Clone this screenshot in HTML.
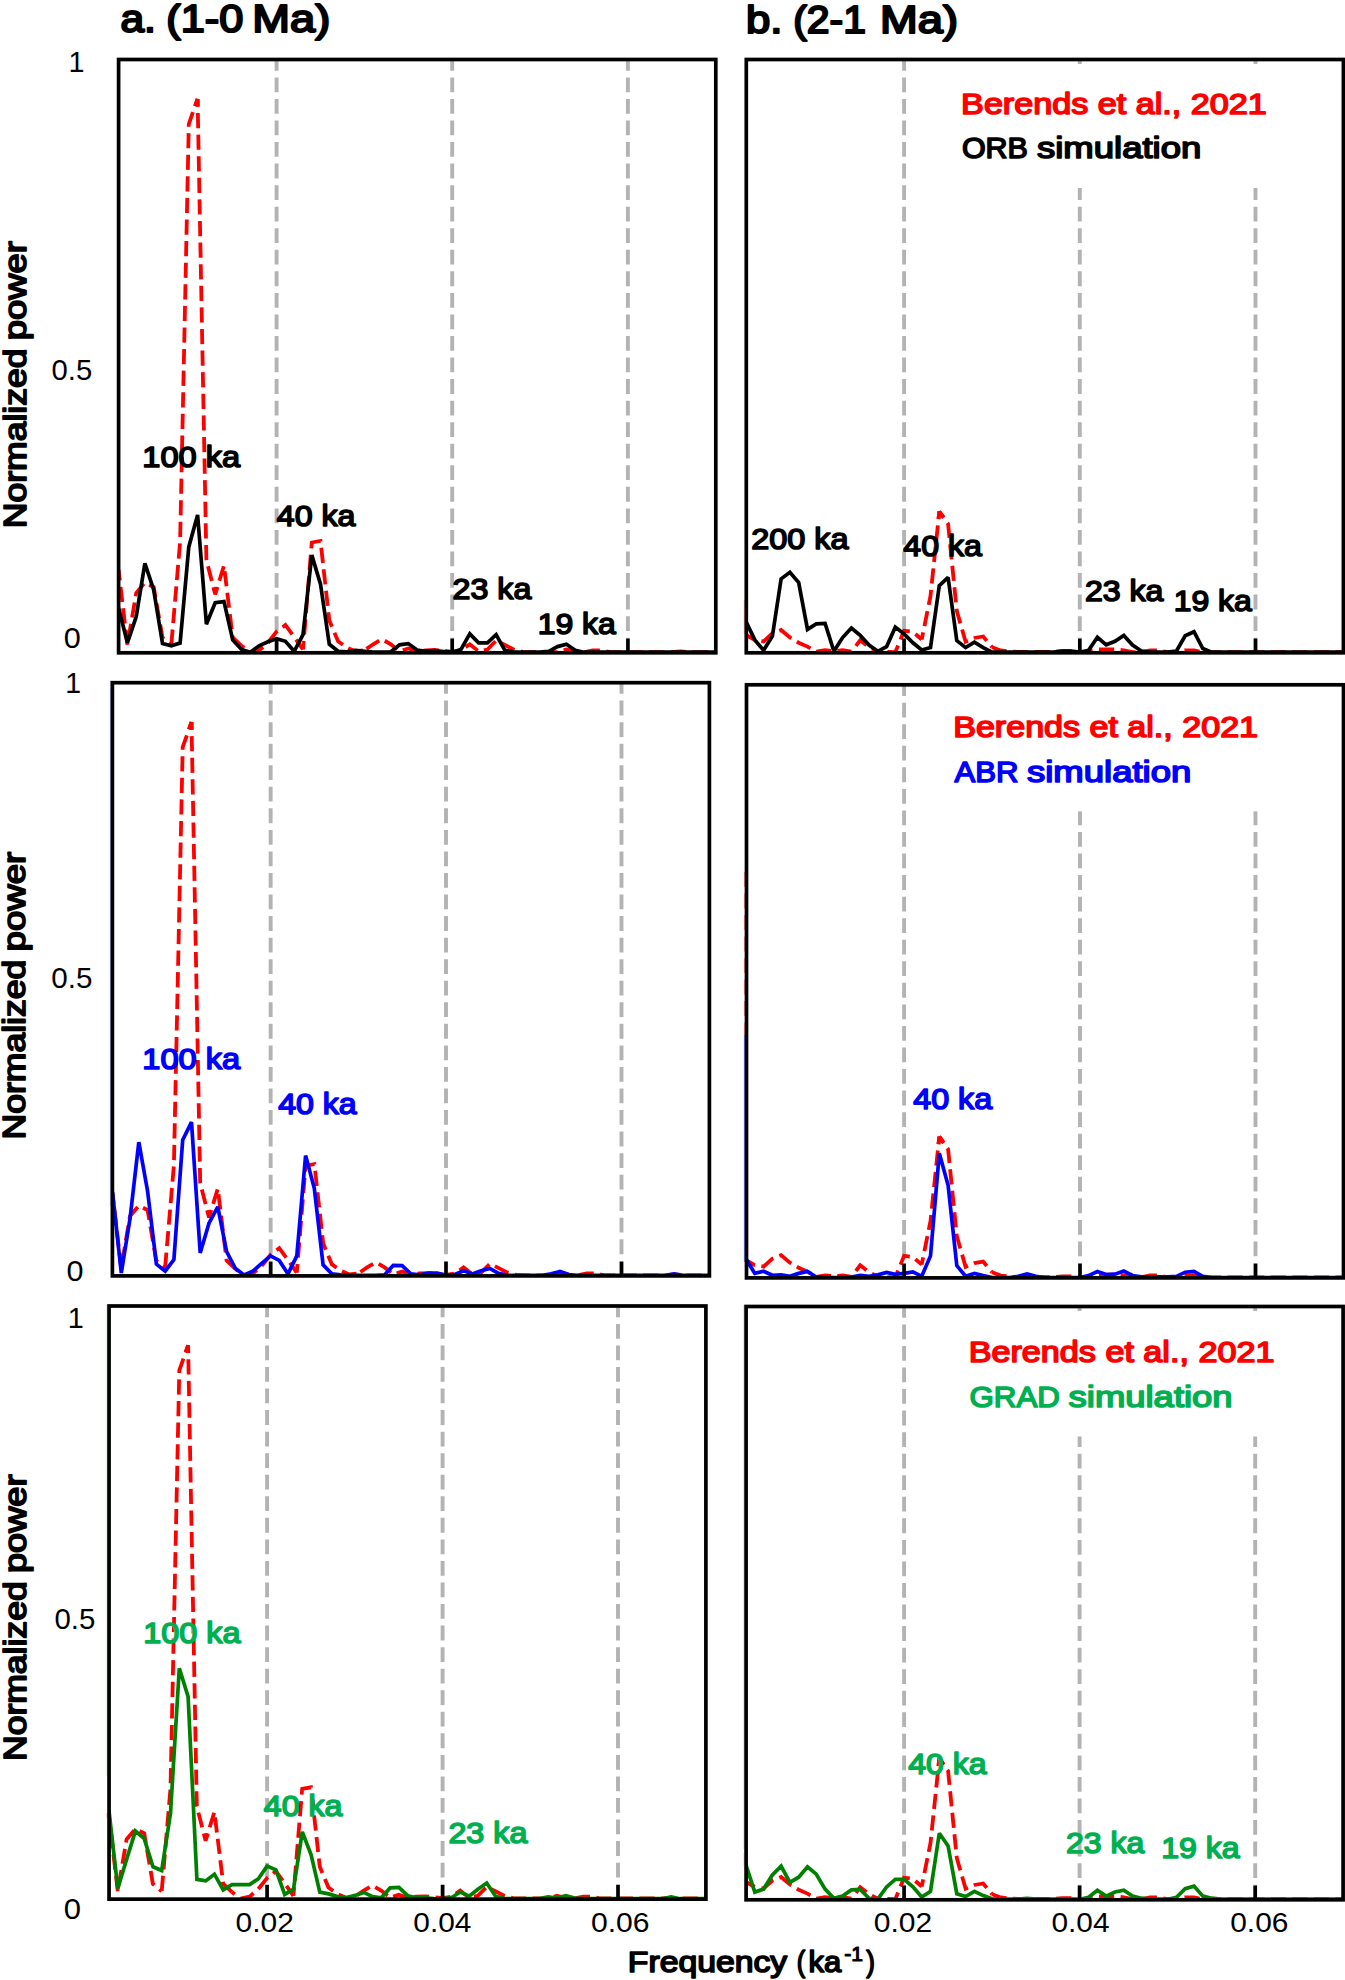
<!DOCTYPE html>
<html><head><meta charset="utf-8"><title>Spectra</title>
<style>html,body{margin:0;padding:0;background:#fff}svg{display:block}</style></head>
<body>
<svg width="1345" height="1980" viewBox="0 0 1345 1980" font-family="'Liberation Sans', Arial, sans-serif">
<rect width="1345" height="1980" fill="#fff"/>
<defs>
<clipPath id="caT"><rect x="118.20" y="59.50" width="598.00" height="593.30"/></clipPath>
<clipPath id="caM"><rect x="112.00" y="682.70" width="597.80" height="593.20"/></clipPath>
<clipPath id="caB"><rect x="108.65" y="1306.00" width="597.65" height="593.15"/></clipPath>
<clipPath id="cbT"><rect x="745.90" y="59.50" width="597.90" height="593.30"/></clipPath>
<clipPath id="cbM"><rect x="746.10" y="684.80" width="597.80" height="593.10"/></clipPath>
<clipPath id="cbB"><rect x="745.70" y="1306.50" width="597.80" height="593.30"/></clipPath>
</defs>
<line x1="276.60" y1="59.50" x2="276.60" y2="652.80" stroke="#b3b3b3" stroke-width="3.9" stroke-dasharray="14.8 6.75" stroke-dashoffset="3.65"/>
<line x1="452.20" y1="59.50" x2="452.20" y2="652.80" stroke="#b3b3b3" stroke-width="3.9" stroke-dasharray="14.8 6.75" stroke-dashoffset="3.65"/>
<line x1="627.90" y1="59.50" x2="627.90" y2="652.80" stroke="#b3b3b3" stroke-width="3.9" stroke-dasharray="14.8 6.75" stroke-dashoffset="3.65"/>
<line x1="270.65" y1="682.70" x2="270.65" y2="1275.90" stroke="#b3b3b3" stroke-width="3.9" stroke-dasharray="14.8 6.75" stroke-dashoffset="3.65"/>
<line x1="446.00" y1="682.70" x2="446.00" y2="1275.90" stroke="#b3b3b3" stroke-width="3.9" stroke-dasharray="14.8 6.75" stroke-dashoffset="3.65"/>
<line x1="621.50" y1="682.70" x2="621.50" y2="1275.90" stroke="#b3b3b3" stroke-width="3.9" stroke-dasharray="14.8 6.75" stroke-dashoffset="3.65"/>
<line x1="267.10" y1="1306.00" x2="267.10" y2="1899.15" stroke="#b3b3b3" stroke-width="3.9" stroke-dasharray="14.8 6.75" stroke-dashoffset="3.65"/>
<line x1="442.60" y1="1306.00" x2="442.60" y2="1899.15" stroke="#b3b3b3" stroke-width="3.9" stroke-dasharray="14.8 6.75" stroke-dashoffset="3.65"/>
<line x1="618.00" y1="1306.00" x2="618.00" y2="1899.15" stroke="#b3b3b3" stroke-width="3.9" stroke-dasharray="14.8 6.75" stroke-dashoffset="3.65"/>
<line x1="904.10" y1="59.50" x2="904.10" y2="652.80" stroke="#b3b3b3" stroke-width="3.9" stroke-dasharray="14.8 6.75" stroke-dashoffset="3.65"/>
<line x1="1079.80" y1="59.50" x2="1079.80" y2="652.80" stroke="#b3b3b3" stroke-width="3.9" stroke-dasharray="14.8 6.75" stroke-dashoffset="3.65"/>
<line x1="1255.50" y1="59.50" x2="1255.50" y2="652.80" stroke="#b3b3b3" stroke-width="3.9" stroke-dasharray="14.8 6.75" stroke-dashoffset="3.65"/>
<rect x="1039.8" y="64.0" width="260" height="124.0" fill="#fff"/>
<line x1="904.10" y1="684.80" x2="904.10" y2="1277.90" stroke="#b3b3b3" stroke-width="3.9" stroke-dasharray="14.8 6.75" stroke-dashoffset="3.65"/>
<line x1="1080.00" y1="684.80" x2="1080.00" y2="1277.90" stroke="#b3b3b3" stroke-width="3.9" stroke-dasharray="14.8 6.75" stroke-dashoffset="3.65"/>
<line x1="1255.50" y1="684.80" x2="1255.50" y2="1277.90" stroke="#b3b3b3" stroke-width="3.9" stroke-dasharray="14.8 6.75" stroke-dashoffset="3.65"/>
<rect x="1040.0" y="685.8" width="260" height="125.6" fill="#fff"/>
<line x1="904.10" y1="1306.50" x2="904.10" y2="1899.80" stroke="#b3b3b3" stroke-width="3.9" stroke-dasharray="14.8 6.75" stroke-dashoffset="3.65"/>
<line x1="1079.60" y1="1306.50" x2="1079.60" y2="1899.80" stroke="#b3b3b3" stroke-width="3.9" stroke-dasharray="14.8 6.75" stroke-dashoffset="3.65"/>
<line x1="1255.20" y1="1306.50" x2="1255.20" y2="1899.80" stroke="#b3b3b3" stroke-width="3.9" stroke-dasharray="14.8 6.75" stroke-dashoffset="3.65"/>
<rect x="1039.6" y="1311.0" width="260" height="125.5" fill="#fff"/>
<g clip-path="url(#caT)">
<polyline points="118.6,570.0 127.4,645.0 136.2,593.0 144.9,582.6 153.7,587.0 162.5,637.6 171.3,645.0" fill="none" stroke="#ff0000" stroke-width="3.8" stroke-dasharray="15.2 6.4" stroke-dashoffset="4.60" stroke-linejoin="miter" stroke-miterlimit="2"/>
<polyline points="197.6,99.0 188.8,124.0 180.1,542.0 171.3,645.0" fill="none" stroke="#ff0000" stroke-width="3.8" stroke-dasharray="15.2 6.4" stroke-dashoffset="7.60" stroke-linejoin="miter" stroke-miterlimit="2"/>
<polyline points="197.6,99.0 206.4,560.0 215.2,594.4 224.0,565.6 232.7,637.5 241.5,645.8" fill="none" stroke="#ff0000" stroke-width="3.8" stroke-dasharray="15.2 6.4" stroke-dashoffset="7.60" stroke-linejoin="miter" stroke-miterlimit="2"/>
<polyline points="241.5,645.8 250.3,652.2 259.1,650.3 267.9,642.8 276.6,631.7 285.4,625.0 294.2,637.0 303.0,649.5" fill="none" stroke="#ff0000" stroke-width="3.8" stroke-dasharray="15.2 6.4" stroke-dashoffset="11.73" stroke-linejoin="miter" stroke-miterlimit="2"/>
<polyline points="303.0,649.5 311.8,542.5 320.5,541.0 329.3,620.5 338.1,641.3 346.9,647.6 355.7,651.3 364.4,650.3" fill="none" stroke="#ff0000" stroke-width="3.8" stroke-dasharray="15.2 6.4" stroke-dashoffset="6.56" stroke-linejoin="miter" stroke-miterlimit="2"/>
<polyline points="364.4,650.3 373.2,644.3 382.0,639.1 390.8,644.3 399.6,651.3 408.3,648.5 417.1,651.3 425.9,650.3 434.7,650.0 443.5,650.7 452.2,651.8 461.0,650.3 469.8,644.3 478.6,651.3 487.4,649.5 496.1,640.6 504.9,645.0 513.7,649.5 522.5,651.8 531.3,652.2 540.0,652.2 548.8,652.2 557.6,652.2 566.4,649.5 575.2,651.8 583.9,652.2 592.7,650.3 601.5,650.3 610.3,652.2 619.1,652.2 627.8,652.2 636.6,652.2 645.4,652.2 654.2,652.2 663.0,652.2 671.7,652.2 680.5,651.3 689.3,652.2 698.1,652.2 706.9,652.2 715.6,652.2" fill="none" stroke="#ff0000" stroke-width="3.8" stroke-dasharray="15.2 6.4" stroke-dashoffset="19.10" stroke-linejoin="miter" stroke-miterlimit="2"/>
<polyline points="195.1,106.2 197.6,99.0 197.8,106.6" fill="none" stroke="#ff0000" stroke-width="3.8" stroke-linejoin="miter" stroke-miterlimit="2"/>
</g>
<g clip-path="url(#caM)">
<polyline points="112.4,1193.1 121.2,1268.1 130.0,1216.1 138.8,1205.7 147.6,1210.1 156.3,1260.7 165.1,1268.1" fill="none" stroke="#ff0000" stroke-width="3.8" stroke-dasharray="15.2 6.4" stroke-dashoffset="4.60" stroke-linejoin="miter" stroke-miterlimit="2"/>
<polyline points="191.5,722.1 182.7,747.1 173.9,1165.1 165.1,1268.1" fill="none" stroke="#ff0000" stroke-width="3.8" stroke-dasharray="15.2 6.4" stroke-dashoffset="7.60" stroke-linejoin="miter" stroke-miterlimit="2"/>
<polyline points="191.5,722.1 200.2,1183.1 209.0,1217.5 217.8,1188.7 226.6,1260.6 235.4,1268.9" fill="none" stroke="#ff0000" stroke-width="3.8" stroke-dasharray="15.2 6.4" stroke-dashoffset="7.60" stroke-linejoin="miter" stroke-miterlimit="2"/>
<polyline points="235.4,1268.9 244.1,1275.3 252.9,1273.4 261.7,1265.9 270.5,1254.8 279.3,1248.1 288.1,1260.1 296.8,1272.6" fill="none" stroke="#ff0000" stroke-width="3.8" stroke-dasharray="15.2 6.4" stroke-dashoffset="11.73" stroke-linejoin="miter" stroke-miterlimit="2"/>
<polyline points="296.8,1272.6 305.6,1165.6 314.4,1164.1 323.2,1243.6 331.9,1264.4 340.7,1270.7 349.5,1274.4 358.3,1273.4" fill="none" stroke="#ff0000" stroke-width="3.8" stroke-dasharray="15.2 6.4" stroke-dashoffset="6.56" stroke-linejoin="miter" stroke-miterlimit="2"/>
<polyline points="358.3,1273.4 367.1,1267.4 375.9,1262.2 384.6,1267.4 393.4,1274.4 402.2,1271.6 411.0,1274.4 419.8,1273.4 428.5,1273.1 437.3,1273.8 446.1,1274.9 454.9,1273.4 463.6,1267.4 472.4,1274.4 481.2,1272.6 490.0,1263.7 498.8,1268.1 507.5,1272.6 516.3,1274.9 525.1,1275.3 533.9,1275.3 542.7,1275.3 551.4,1275.3 560.2,1272.6 569.0,1274.9 577.8,1275.3 586.6,1273.4 595.4,1273.4 604.1,1275.3 612.9,1275.3 621.7,1275.3 630.5,1275.3 639.2,1275.3 648.0,1275.3 656.8,1275.3 665.6,1275.3 674.4,1274.4 683.1,1275.3 691.9,1275.3 700.7,1275.3 709.5,1275.3" fill="none" stroke="#ff0000" stroke-width="3.8" stroke-dasharray="15.2 6.4" stroke-dashoffset="19.10" stroke-linejoin="miter" stroke-miterlimit="2"/>
<polyline points="189.0,729.3 191.5,722.1 191.6,729.7" fill="none" stroke="#ff0000" stroke-width="3.8" stroke-linejoin="miter" stroke-miterlimit="2"/>
</g>
<g clip-path="url(#caB)">
<polyline points="109.0,1816.3 117.8,1891.3 126.6,1839.3 135.4,1828.9 144.2,1833.3 152.9,1883.9 161.7,1891.3" fill="none" stroke="#ff0000" stroke-width="3.8" stroke-dasharray="15.2 6.4" stroke-dashoffset="4.60" stroke-linejoin="miter" stroke-miterlimit="2"/>
<polyline points="188.1,1345.3 179.3,1370.3 170.5,1788.3 161.7,1891.3" fill="none" stroke="#ff0000" stroke-width="3.8" stroke-dasharray="15.2 6.4" stroke-dashoffset="7.60" stroke-linejoin="miter" stroke-miterlimit="2"/>
<polyline points="188.1,1345.3 196.8,1806.3 205.6,1840.8 214.4,1811.9 223.2,1883.8 232.0,1892.1" fill="none" stroke="#ff0000" stroke-width="3.8" stroke-dasharray="15.2 6.4" stroke-dashoffset="7.60" stroke-linejoin="miter" stroke-miterlimit="2"/>
<polyline points="232.0,1892.1 240.7,1898.5 249.5,1896.7 258.3,1889.1 267.1,1878.0 275.9,1871.3 284.6,1883.3 293.4,1895.8" fill="none" stroke="#ff0000" stroke-width="3.8" stroke-dasharray="15.2 6.4" stroke-dashoffset="11.73" stroke-linejoin="miter" stroke-miterlimit="2"/>
<polyline points="293.4,1895.8 302.2,1788.8 311.0,1787.3 319.8,1866.8 328.5,1887.6 337.3,1894.0 346.1,1897.7 354.9,1896.7" fill="none" stroke="#ff0000" stroke-width="3.8" stroke-dasharray="15.2 6.4" stroke-dashoffset="6.56" stroke-linejoin="miter" stroke-miterlimit="2"/>
<polyline points="354.9,1896.7 363.7,1890.6 372.4,1885.4 381.2,1890.6 390.0,1897.7 398.8,1894.8 407.6,1897.7 416.3,1896.7 425.1,1896.3 433.9,1897.1 442.7,1898.2 451.5,1896.7 460.2,1890.6 469.0,1897.7 477.8,1895.8 486.6,1886.9 495.4,1891.3 504.1,1895.8 512.9,1898.2 521.7,1898.5 530.5,1898.5 539.3,1898.5 548.0,1898.5 556.8,1895.8 565.6,1898.2 574.4,1898.5 583.2,1896.7 592.0,1896.7 600.7,1898.5 609.5,1898.5 618.3,1898.5 627.1,1898.5 635.9,1898.5 644.6,1898.5 653.4,1898.5 662.2,1898.5 671.0,1897.7 679.8,1898.5 688.5,1898.5 697.3,1898.5 706.1,1898.5" fill="none" stroke="#ff0000" stroke-width="3.8" stroke-dasharray="15.2 6.4" stroke-dashoffset="19.10" stroke-linejoin="miter" stroke-miterlimit="2"/>
<polyline points="185.6,1352.5 188.1,1345.3 188.2,1352.9" fill="none" stroke="#ff0000" stroke-width="3.8" stroke-linejoin="miter" stroke-miterlimit="2"/>
</g>
<g clip-path="url(#cbT)">
<polyline points="746.0,635.0 754.8,640.0 763.6,641.5 772.4,633.5 781.1,630.0 789.9,637.5 798.7,642.7 807.5,646.6 816.3,651.7 825.1,650.2 833.9,651.2 842.6,650.2 851.4,651.7 860.2,640.2 869.0,647.2 877.8,651.6" fill="none" stroke="#ff0000" stroke-width="3.8" stroke-dasharray="15.2 6.4" stroke-dashoffset="4.84" stroke-linejoin="miter" stroke-miterlimit="2"/>
<polyline points="877.8,651.6 886.6,652.0 895.3,652.2 904.1,630.8 912.9,631.8 921.7,639.5" fill="none" stroke="#ff0000" stroke-width="3.8" stroke-dasharray="15.2 6.4" stroke-dashoffset="11.99" stroke-linejoin="miter" stroke-miterlimit="2"/>
<polyline points="939.3,511.5 930.5,596.0 921.7,639.5" fill="none" stroke="#ff0000" stroke-width="3.8" stroke-dasharray="15.2 6.4" stroke-dashoffset="7.60" stroke-linejoin="miter" stroke-miterlimit="2"/>
<polyline points="939.3,511.5 948.1,524.0 956.8,611.0 965.6,641.7 974.4,638.0 983.2,636.5 992.0,647.2" fill="none" stroke="#ff0000" stroke-width="3.8" stroke-dasharray="15.2 6.4" stroke-dashoffset="7.60" stroke-linejoin="miter" stroke-miterlimit="2"/>
<polyline points="992.0,647.2 1000.8,650.5 1009.5,651.5 1018.3,652.0 1027.1,652.0 1035.9,652.0 1044.7,652.0 1053.5,652.0 1062.3,651.2 1071.0,651.2 1079.8,652.2 1088.6,651.6 1097.4,649.5 1106.2,649.5 1115.0,649.5 1123.8,650.3 1132.5,652.2 1141.3,652.2 1150.1,650.3 1158.9,650.3 1167.7,652.2 1176.5,652.2 1185.2,650.3 1194.0,650.3 1202.8,652.2 1211.6,652.2 1220.4,652.2 1229.2,652.2 1238.0,652.2 1246.7,652.2 1255.5,652.2 1264.3,652.2 1273.1,652.2 1281.9,652.2 1290.7,652.2 1299.5,652.2 1308.2,652.2 1317.0,652.2 1325.8,652.2 1334.6,652.2 1343.4,652.2" fill="none" stroke="#ff0000" stroke-width="3.8" stroke-dasharray="15.2 6.4" stroke-dashoffset="0.00" stroke-linejoin="miter" stroke-miterlimit="2"/>
<polyline points="938.5,519.1 939.3,511.5 943.6,517.7" fill="none" stroke="#ff0000" stroke-width="3.8" stroke-linejoin="miter" stroke-miterlimit="2"/>
</g>
<g clip-path="url(#cbM)">
<polyline points="746.0,1260.1 754.8,1265.1 763.6,1266.6 772.4,1258.6 781.1,1255.1 789.9,1262.6 798.7,1267.8 807.5,1271.7 816.3,1276.8 825.1,1275.3 833.9,1276.3 842.6,1275.3 851.4,1276.8 860.2,1265.3 869.0,1272.3 877.8,1276.7" fill="none" stroke="#ff0000" stroke-width="3.8" stroke-dasharray="15.2 6.4" stroke-dashoffset="4.84" stroke-linejoin="miter" stroke-miterlimit="2"/>
<polyline points="877.8,1276.7 886.6,1277.1 895.3,1277.3 904.1,1255.9 912.9,1256.9 921.7,1264.6" fill="none" stroke="#ff0000" stroke-width="3.8" stroke-dasharray="15.2 6.4" stroke-dashoffset="11.99" stroke-linejoin="miter" stroke-miterlimit="2"/>
<polyline points="939.3,1136.6 930.5,1221.1 921.7,1264.6" fill="none" stroke="#ff0000" stroke-width="3.8" stroke-dasharray="15.2 6.4" stroke-dashoffset="7.60" stroke-linejoin="miter" stroke-miterlimit="2"/>
<polyline points="939.3,1136.6 948.1,1149.1 956.8,1236.1 965.6,1266.8 974.4,1263.1 983.2,1261.6 992.0,1272.3" fill="none" stroke="#ff0000" stroke-width="3.8" stroke-dasharray="15.2 6.4" stroke-dashoffset="7.60" stroke-linejoin="miter" stroke-miterlimit="2"/>
<polyline points="992.0,1272.3 1000.8,1275.6 1009.5,1276.6 1018.3,1277.1 1027.1,1277.1 1035.9,1277.1 1044.7,1277.1 1053.5,1277.1 1062.3,1276.3 1071.0,1276.3 1079.8,1277.3 1088.6,1276.7 1097.4,1274.6 1106.2,1274.6 1115.0,1274.6 1123.8,1275.4 1132.5,1277.3 1141.3,1277.3 1150.1,1275.4 1158.9,1275.4 1167.7,1277.3 1176.5,1277.3 1185.2,1275.4 1194.0,1275.4 1202.8,1277.3 1211.6,1277.3 1220.4,1277.3 1229.2,1277.3 1238.0,1277.3 1246.7,1277.3 1255.5,1277.3 1264.3,1277.3 1273.1,1277.3 1281.9,1277.3 1290.7,1277.3 1299.5,1277.3 1308.2,1277.3 1317.0,1277.3 1325.8,1277.3 1334.6,1277.3 1343.4,1277.3" fill="none" stroke="#ff0000" stroke-width="3.8" stroke-dasharray="15.2 6.4" stroke-dashoffset="0.00" stroke-linejoin="miter" stroke-miterlimit="2"/>
<polyline points="938.5,1144.2 939.3,1136.6 943.6,1142.8" fill="none" stroke="#ff0000" stroke-width="3.8" stroke-linejoin="miter" stroke-miterlimit="2"/>
</g>
<g clip-path="url(#cbB)">
<polyline points="746.0,1882.0 754.8,1887.0 763.6,1888.5 772.4,1880.5 781.1,1877.0 789.9,1884.5 798.7,1889.7 807.5,1893.6 816.3,1898.7 825.1,1897.2 833.9,1898.2 842.6,1897.2 851.4,1898.7 860.2,1887.2 869.0,1894.2 877.8,1898.6" fill="none" stroke="#ff0000" stroke-width="3.8" stroke-dasharray="15.2 6.4" stroke-dashoffset="4.84" stroke-linejoin="miter" stroke-miterlimit="2"/>
<polyline points="877.8,1898.6 886.6,1899.0 895.3,1899.2 904.1,1877.8 912.9,1878.8 921.7,1886.5" fill="none" stroke="#ff0000" stroke-width="3.8" stroke-dasharray="15.2 6.4" stroke-dashoffset="11.99" stroke-linejoin="miter" stroke-miterlimit="2"/>
<polyline points="939.3,1758.5 930.5,1843.0 921.7,1886.5" fill="none" stroke="#ff0000" stroke-width="3.8" stroke-dasharray="15.2 6.4" stroke-dashoffset="7.60" stroke-linejoin="miter" stroke-miterlimit="2"/>
<polyline points="939.3,1758.5 948.1,1771.0 956.8,1858.0 965.6,1888.7 974.4,1885.0 983.2,1883.5 992.0,1894.2" fill="none" stroke="#ff0000" stroke-width="3.8" stroke-dasharray="15.2 6.4" stroke-dashoffset="7.60" stroke-linejoin="miter" stroke-miterlimit="2"/>
<polyline points="992.0,1894.2 1000.8,1897.5 1009.5,1898.5 1018.3,1899.0 1027.1,1899.0 1035.9,1899.0 1044.7,1899.0 1053.5,1899.0 1062.3,1898.2 1071.0,1898.2 1079.8,1899.2 1088.6,1898.6 1097.4,1896.5 1106.2,1896.5 1115.0,1896.5 1123.8,1897.3 1132.5,1899.2 1141.3,1899.2 1150.1,1897.3 1158.9,1897.3 1167.7,1899.2 1176.5,1899.2 1185.2,1897.3 1194.0,1897.3 1202.8,1899.2 1211.6,1899.2 1220.4,1899.2 1229.2,1899.2 1238.0,1899.2 1246.7,1899.2 1255.5,1899.2 1264.3,1899.2 1273.1,1899.2 1281.9,1899.2 1290.7,1899.2 1299.5,1899.2 1308.2,1899.2 1317.0,1899.2 1325.8,1899.2 1334.6,1899.2 1343.4,1899.2" fill="none" stroke="#ff0000" stroke-width="3.8" stroke-dasharray="15.2 6.4" stroke-dashoffset="0.00" stroke-linejoin="miter" stroke-miterlimit="2"/>
<polyline points="938.5,1766.1 939.3,1758.5 943.6,1764.7" fill="none" stroke="#ff0000" stroke-width="3.8" stroke-linejoin="miter" stroke-miterlimit="2"/>
</g>
<line x1="110.40" y1="681.0" x2="110.40" y2="1206.0" stroke="#0000ff" stroke-width="0.9" opacity="0.3"/>
<line x1="107.00" y1="1304.0" x2="107.00" y2="1776.0" stroke="#008000" stroke-width="0.9" opacity="0.2"/>
<line x1="107.10" y1="1813.0" x2="107.10" y2="1818.0" stroke="#ff0000" stroke-width="0.9" opacity="0.4"/>
<line x1="744.30" y1="600.0" x2="744.30" y2="634.0" stroke="#ff0000" stroke-width="0.9" opacity="0.4"/>
<line x1="744.40" y1="872.0" x2="744.40" y2="1035.0" stroke="#ff0000" stroke-width="0.9" opacity="0.5" stroke-dasharray="15 6.5"/>
<line x1="744.40" y1="1035.0" x2="744.40" y2="1262.0" stroke="#0000ff" stroke-width="0.9" opacity="0.6"/>
<line x1="744.00" y1="1305.0" x2="744.00" y2="1849.0" stroke="#008000" stroke-width="0.9" opacity="0.3"/>
<line x1="744.00" y1="1853.0" x2="744.00" y2="1867.0" stroke="#ff0000" stroke-width="0.9" opacity="0.25"/>
<polyline clip-path="url(#caT)" points="118.6,608.0 127.4,642.8 136.2,616.8 144.9,563.3 153.7,590.0 162.5,643.6 171.3,645.8 180.1,643.1 188.8,546.9 197.6,514.9 206.4,624.2 215.2,602.7 224.0,601.6 232.7,639.9 241.5,649.5 250.3,652.2 259.1,645.8 267.9,641.8 276.6,638.8 285.4,641.3 294.2,651.3 303.0,634.6 311.8,555.1 320.5,584.1 329.3,644.3 338.1,651.3 346.9,651.8 355.7,650.3 364.4,651.3 373.2,652.2 382.0,652.2 390.8,651.8 399.6,644.8 408.3,643.6 417.1,650.0 425.9,651.3 434.7,650.7 443.5,651.5 452.2,652.2 461.0,649.5 469.8,633.9 478.6,642.8 487.4,642.8 496.1,634.6 504.9,650.3 513.7,651.8 522.5,652.2 531.3,652.2 540.0,652.2 548.8,651.3 557.6,646.6 566.4,644.3 575.2,650.3 583.9,652.2 592.7,652.2 601.5,652.2 610.3,652.2 619.1,652.2 627.8,652.2 636.6,652.2 645.4,652.2 654.2,652.2 663.0,652.2 671.7,652.2 680.5,652.2 689.3,652.2 698.1,652.2 706.9,652.2 715.6,652.2" fill="none" stroke="#000" stroke-width="3.7" stroke-linejoin="miter" stroke-miterlimit="2"/>
<polyline clip-path="url(#caM)" points="112.5,1192.0 121.3,1273.0 130.1,1218.0 138.8,1142.2 147.6,1191.2 156.4,1264.1 165.2,1271.2 173.9,1259.6 182.7,1139.9 191.5,1122.1 200.2,1253.0 209.0,1223.2 217.8,1206.9 226.6,1251.5 235.4,1268.6 244.1,1274.9 252.9,1271.2 261.7,1263.4 270.5,1255.9 279.2,1260.4 288.0,1273.9 296.8,1255.9 305.6,1155.6 314.3,1188.3 323.1,1264.9 331.9,1273.9 340.6,1274.9 349.4,1275.4 358.2,1275.4 367.0,1275.4 375.8,1275.4 384.5,1274.9 393.3,1265.3 402.1,1265.6 410.9,1273.9 419.6,1274.9 428.4,1273.0 437.2,1273.0 445.9,1275.4 454.7,1274.5 463.5,1270.8 472.3,1273.9 481.1,1270.8 489.8,1268.4 498.6,1273.4 507.4,1275.4 516.2,1275.4 524.9,1275.4 533.7,1275.4 542.5,1275.4 551.2,1273.9 560.0,1271.4 568.8,1274.5 577.6,1275.4 586.4,1275.4 595.1,1275.4 603.9,1275.4 612.7,1275.4 621.5,1275.4 630.2,1275.4 639.0,1275.4 647.8,1275.4 656.6,1275.4 665.3,1275.4 674.1,1273.9 682.9,1275.4 691.6,1275.4 700.4,1275.4 709.2,1275.4" fill="none" stroke="#0000ff" stroke-width="3.7" stroke-linejoin="miter" stroke-miterlimit="2"/>
<polyline clip-path="url(#caB)" points="109.0,1811.0 117.8,1888.4 126.6,1859.4 135.4,1831.1 144.2,1838.6 153.0,1866.8 161.7,1870.5 170.5,1813.3 179.3,1668.3 188.1,1696.6 196.9,1879.4 205.7,1880.9 214.4,1874.2 223.2,1889.9 232.0,1884.6 240.8,1884.6 249.6,1884.6 258.4,1878.7 267.1,1866.1 275.9,1869.8 284.7,1894.4 293.5,1889.1 302.3,1831.9 311.1,1854.9 319.8,1892.1 328.6,1893.9 337.4,1896.6 346.2,1897.8 355.0,1895.4 363.8,1892.4 372.5,1896.6 381.3,1897.8 390.1,1887.9 398.9,1887.3 407.7,1895.7 416.5,1897.8 425.2,1897.8 434.0,1898.5 442.8,1898.9 451.6,1897.5 460.4,1892.0 469.2,1896.2 477.9,1889.2 486.7,1883.0 495.5,1896.2 504.3,1898.5 513.1,1898.5 521.9,1898.5 530.6,1898.5 539.4,1898.5 548.2,1896.8 557.0,1898.1 565.8,1895.6 574.5,1898.1 583.3,1898.7 592.1,1898.7 600.9,1898.7 609.7,1898.7 618.5,1898.7 627.2,1898.7 636.0,1898.7 644.8,1898.7 653.6,1898.7 662.4,1898.7 671.2,1896.8 679.9,1898.7 688.7,1898.7 697.5,1898.7 706.3,1898.7" fill="none" stroke="#008000" stroke-width="3.7" stroke-linejoin="miter" stroke-miterlimit="2"/>
<polyline clip-path="url(#cbT)" points="746.0,621.5 754.8,639.9 763.6,650.3 772.4,636.1 781.1,578.9 789.9,572.2 798.7,582.6 807.5,629.4 816.3,623.9 825.1,623.5 833.9,651.3 842.6,637.6 851.4,628.0 860.2,635.4 869.0,645.0 877.8,651.3 886.6,646.6 895.3,627.2 904.1,633.9 912.9,642.8 921.7,650.0 930.5,647.6 939.3,585.6 948.1,577.4 956.8,640.6 965.6,647.6 974.4,642.1 983.2,647.6 992.0,652.2 1000.8,652.2 1009.5,652.2 1018.3,652.2 1027.1,652.2 1035.9,652.2 1044.7,652.2 1053.5,652.2 1062.3,651.0 1071.0,651.0 1079.8,652.2 1088.6,650.3 1097.4,637.3 1106.2,644.8 1115.0,641.3 1123.8,635.4 1132.5,645.0 1141.3,651.0 1150.1,652.2 1158.9,652.2 1167.7,652.2 1176.5,651.0 1185.2,635.8 1194.0,631.7 1202.8,648.5 1211.6,652.2 1220.4,652.2 1229.2,652.2 1238.0,652.2 1246.7,652.2 1255.5,652.2 1264.3,652.2 1273.1,652.2 1281.9,652.2 1290.7,652.2 1299.5,652.2 1308.2,652.2 1317.0,652.2 1325.8,652.2 1334.6,652.2 1343.4,652.2" fill="none" stroke="#000" stroke-width="3.7" stroke-linejoin="miter" stroke-miterlimit="2"/>
<polyline clip-path="url(#cbM)" points="746.0,1259.0 754.8,1273.4 763.6,1271.2 772.4,1275.3 781.1,1274.9 789.9,1276.3 798.7,1273.4 807.5,1271.5 816.3,1277.1 825.1,1277.1 833.9,1277.5 842.6,1277.5 851.4,1277.1 860.2,1275.3 869.0,1276.3 877.8,1274.9 886.6,1272.5 895.3,1274.4 904.1,1273.4 912.9,1271.9 921.7,1276.3 930.5,1255.9 939.3,1153.3 948.1,1185.3 956.8,1265.6 965.6,1276.3 974.4,1273.4 983.2,1275.6 992.0,1277.5 1000.8,1277.5 1009.5,1277.5 1018.3,1276.3 1027.1,1273.8 1035.9,1276.3 1044.7,1277.5 1053.5,1277.5 1062.3,1277.5 1071.0,1277.5 1079.8,1277.5 1088.6,1275.6 1097.4,1271.5 1106.2,1274.6 1115.0,1274.2 1123.8,1271.1 1132.5,1275.5 1141.3,1276.9 1150.1,1276.9 1158.9,1276.9 1167.7,1276.9 1176.5,1276.3 1185.2,1272.2 1194.0,1271.5 1202.8,1276.3 1211.6,1277.5 1220.4,1277.5 1229.2,1277.5 1238.0,1277.5 1246.7,1277.5 1255.5,1277.5 1264.3,1277.5 1273.1,1277.5 1281.9,1277.5 1290.7,1277.5 1299.5,1277.5 1308.2,1277.5 1317.0,1277.5 1325.8,1277.5 1334.6,1277.5 1343.4,1277.5" fill="none" stroke="#0000ff" stroke-width="3.7" stroke-linejoin="miter" stroke-miterlimit="2"/>
<polyline clip-path="url(#cbB)" points="746.0,1865.0 754.8,1892.1 763.6,1889.1 772.4,1875.0 781.1,1866.1 789.9,1882.4 798.7,1877.2 807.5,1866.8 816.3,1874.2 825.1,1889.1 833.9,1898.3 842.6,1896.0 851.4,1889.9 860.2,1889.4 869.0,1898.3 877.8,1899.2 886.6,1886.9 895.3,1879.4 904.1,1879.4 912.9,1886.9 921.7,1897.0 930.5,1891.3 939.3,1833.3 948.1,1846.0 956.8,1893.7 965.6,1896.5 974.4,1891.3 983.2,1895.6 992.0,1898.8 1000.8,1899.2 1009.5,1899.2 1018.3,1899.2 1027.1,1898.3 1035.9,1899.2 1044.7,1899.2 1053.5,1899.2 1062.3,1899.2 1071.0,1899.2 1079.8,1899.2 1088.6,1897.3 1097.4,1890.3 1106.2,1896.1 1115.0,1892.0 1123.8,1890.3 1132.5,1896.1 1141.3,1898.2 1150.1,1899.2 1158.9,1899.2 1167.7,1899.2 1176.5,1897.3 1185.2,1888.6 1194.0,1886.1 1202.8,1896.1 1211.6,1898.2 1220.4,1899.2 1229.2,1899.2 1238.0,1899.2 1246.7,1899.2 1255.5,1899.2 1264.3,1899.2 1273.1,1899.2 1281.9,1899.2 1290.7,1899.2 1299.5,1899.2 1308.2,1899.2 1317.0,1899.2 1325.8,1899.2 1334.6,1899.2 1343.4,1899.2" fill="none" stroke="#008000" stroke-width="3.7" stroke-linejoin="miter" stroke-miterlimit="2"/>
<rect x="118.60" y="59.50" width="597.20" height="593.30" fill="none" stroke="#000" stroke-width="3.7"/>
<line x1="276.60" y1="652.80" x2="276.60" y2="638.60" stroke="#000" stroke-width="3.6"/>
<line x1="452.20" y1="652.80" x2="452.20" y2="638.60" stroke="#000" stroke-width="3.6"/>
<line x1="627.90" y1="652.80" x2="627.90" y2="638.60" stroke="#000" stroke-width="3.6"/>
<rect x="112.40" y="682.70" width="597.00" height="593.20" fill="none" stroke="#000" stroke-width="3.7"/>
<line x1="270.65" y1="1275.90" x2="270.65" y2="1261.70" stroke="#000" stroke-width="3.6"/>
<line x1="446.00" y1="1275.90" x2="446.00" y2="1261.70" stroke="#000" stroke-width="3.6"/>
<line x1="621.50" y1="1275.90" x2="621.50" y2="1261.70" stroke="#000" stroke-width="3.6"/>
<rect x="109.05" y="1306.00" width="596.85" height="593.15" fill="none" stroke="#000" stroke-width="3.7"/>
<line x1="267.10" y1="1899.15" x2="267.10" y2="1884.95" stroke="#000" stroke-width="3.6"/>
<line x1="442.60" y1="1899.15" x2="442.60" y2="1884.95" stroke="#000" stroke-width="3.6"/>
<line x1="618.00" y1="1899.15" x2="618.00" y2="1884.95" stroke="#000" stroke-width="3.6"/>
<rect x="746.30" y="59.50" width="597.10" height="593.30" fill="none" stroke="#000" stroke-width="3.7"/>
<line x1="904.10" y1="652.80" x2="904.10" y2="638.60" stroke="#000" stroke-width="3.6"/>
<line x1="1079.80" y1="652.80" x2="1079.80" y2="638.60" stroke="#000" stroke-width="3.6"/>
<line x1="1255.50" y1="652.80" x2="1255.50" y2="638.60" stroke="#000" stroke-width="3.6"/>
<rect x="746.50" y="684.80" width="597.00" height="593.10" fill="none" stroke="#000" stroke-width="3.7"/>
<line x1="904.10" y1="1277.90" x2="904.10" y2="1263.70" stroke="#000" stroke-width="3.6"/>
<line x1="1080.00" y1="1277.90" x2="1080.00" y2="1263.70" stroke="#000" stroke-width="3.6"/>
<line x1="1255.50" y1="1277.90" x2="1255.50" y2="1263.70" stroke="#000" stroke-width="3.6"/>
<rect x="746.10" y="1306.50" width="597.00" height="593.30" fill="none" stroke="#000" stroke-width="3.7"/>
<line x1="904.10" y1="1899.80" x2="904.10" y2="1885.60" stroke="#000" stroke-width="3.6"/>
<line x1="1079.60" y1="1899.80" x2="1079.60" y2="1885.60" stroke="#000" stroke-width="3.6"/>
<line x1="1255.20" y1="1899.80" x2="1255.20" y2="1885.60" stroke="#000" stroke-width="3.6"/>
<text x="120.45" y="32.14" font-size="39.43" fill="#000" stroke="#000" stroke-width="2.12" stroke-linejoin="round" textLength="35.48" lengthAdjust="spacingAndGlyphs">a.</text>
<text x="166.35" y="32.14" font-size="39.43" fill="#000" stroke="#000" stroke-width="2.12" stroke-linejoin="round" textLength="77.05" lengthAdjust="spacingAndGlyphs">(1-0</text>
<text x="252.33" y="32.14" font-size="39.43" fill="#000" stroke="#000" stroke-width="2.12" stroke-linejoin="round" textLength="77.91" lengthAdjust="spacingAndGlyphs">Ma)</text>
<text x="746.02" y="32.64" font-size="39.43" fill="#000" stroke="#000" stroke-width="2.12" stroke-linejoin="round" textLength="36.41" lengthAdjust="spacingAndGlyphs">b.</text>
<text x="793.20" y="32.64" font-size="39.43" fill="#000" stroke="#000" stroke-width="2.12" stroke-linejoin="round" textLength="72.71" lengthAdjust="spacingAndGlyphs">(2-1</text>
<text x="880.13" y="32.64" font-size="39.43" fill="#000" stroke="#000" stroke-width="2.12" stroke-linejoin="round" textLength="77.91" lengthAdjust="spacingAndGlyphs">Ma)</text>
<text x="142.27" y="466.99" font-size="30.24" fill="#000" stroke="#000" stroke-width="1.63" stroke-linejoin="round" textLength="97.83" lengthAdjust="spacingAndGlyphs">100 ka</text>
<text x="276.79" y="525.88" font-size="30.24" fill="#000" stroke="#000" stroke-width="1.63" stroke-linejoin="round" textLength="78.66" lengthAdjust="spacingAndGlyphs">40 ka</text>
<text x="452.61" y="598.88" font-size="30.24" fill="#000" stroke="#000" stroke-width="1.63" stroke-linejoin="round" textLength="78.74" lengthAdjust="spacingAndGlyphs">23 ka</text>
<text x="537.72" y="634.28" font-size="30.24" fill="#000" stroke="#000" stroke-width="1.63" stroke-linejoin="round" textLength="78.13" lengthAdjust="spacingAndGlyphs">19 ka</text>
<text x="751.29" y="549.08" font-size="30.24" fill="#000" stroke="#000" stroke-width="1.63" stroke-linejoin="round" textLength="97.31" lengthAdjust="spacingAndGlyphs">200 ka</text>
<text x="903.39" y="555.88" font-size="30.24" fill="#000" stroke="#000" stroke-width="1.63" stroke-linejoin="round" textLength="78.56" lengthAdjust="spacingAndGlyphs">40 ka</text>
<text x="1085.01" y="601.08" font-size="30.24" fill="#000" stroke="#000" stroke-width="1.63" stroke-linejoin="round" textLength="78.44" lengthAdjust="spacingAndGlyphs">23 ka</text>
<text x="1173.72" y="611.18" font-size="30.24" fill="#000" stroke="#000" stroke-width="1.63" stroke-linejoin="round" textLength="78.13" lengthAdjust="spacingAndGlyphs">19 ka</text>
<text x="142.27" y="1069.28" font-size="30.24" fill="#0000ff" stroke="#0000ff" stroke-width="1.63" stroke-linejoin="round" textLength="97.83" lengthAdjust="spacingAndGlyphs">100 ka</text>
<text x="278.19" y="1114.48" font-size="30.24" fill="#0000ff" stroke="#0000ff" stroke-width="1.63" stroke-linejoin="round" textLength="78.46" lengthAdjust="spacingAndGlyphs">40 ka</text>
<text x="913.19" y="1108.59" font-size="30.24" fill="#0000ff" stroke="#0000ff" stroke-width="1.63" stroke-linejoin="round" textLength="78.96" lengthAdjust="spacingAndGlyphs">40 ka</text>
<text x="143.18" y="1642.98" font-size="30.24" fill="#00b050" stroke="#00b050" stroke-width="1.63" stroke-linejoin="round" textLength="97.42" lengthAdjust="spacingAndGlyphs">100 ka</text>
<text x="263.79" y="1816.18" font-size="30.24" fill="#00b050" stroke="#00b050" stroke-width="1.63" stroke-linejoin="round" textLength="78.66" lengthAdjust="spacingAndGlyphs">40 ka</text>
<text x="448.40" y="1842.59" font-size="30.24" fill="#00b050" stroke="#00b050" stroke-width="1.63" stroke-linejoin="round" textLength="79.05" lengthAdjust="spacingAndGlyphs">23 ka</text>
<text x="908.19" y="1774.28" font-size="30.24" fill="#00b050" stroke="#00b050" stroke-width="1.63" stroke-linejoin="round" textLength="78.46" lengthAdjust="spacingAndGlyphs">40 ka</text>
<text x="1065.91" y="1852.59" font-size="30.24" fill="#00b050" stroke="#00b050" stroke-width="1.63" stroke-linejoin="round" textLength="78.33" lengthAdjust="spacingAndGlyphs">23 ka</text>
<text x="1161.21" y="1858.28" font-size="30.24" fill="#00b050" stroke="#00b050" stroke-width="1.63" stroke-linejoin="round" textLength="78.44" lengthAdjust="spacingAndGlyphs">19 ka</text>
<text x="961.10" y="113.78" font-size="30.32" fill="#ff0000" stroke="#ff0000" stroke-width="1.64" stroke-linejoin="round" textLength="305.74" lengthAdjust="spacingAndGlyphs">Berends et al., 2021</text>
<text x="961.98" y="158.48" font-size="30.32" fill="#000" stroke="#000" stroke-width="1.64" stroke-linejoin="round" textLength="65.89" lengthAdjust="spacingAndGlyphs">ORB</text>
<text x="1037.02" y="158.48" font-size="30.32" fill="#000" stroke="#000" stroke-width="1.64" stroke-linejoin="round" textLength="164.22" lengthAdjust="spacingAndGlyphs">simulation</text>
<text x="953.21" y="737.28" font-size="30.32" fill="#ff0000" stroke="#ff0000" stroke-width="1.64" stroke-linejoin="round" textLength="304.82" lengthAdjust="spacingAndGlyphs">Berends et al., 2021</text>
<text x="954.64" y="782.28" font-size="30.32" fill="#0000ff" stroke="#0000ff" stroke-width="1.64" stroke-linejoin="round" textLength="63.87" lengthAdjust="spacingAndGlyphs">ABR</text>
<text x="1027.02" y="782.28" font-size="30.32" fill="#0000ff" stroke="#0000ff" stroke-width="1.64" stroke-linejoin="round" textLength="164.22" lengthAdjust="spacingAndGlyphs">simulation</text>
<text x="968.70" y="1361.88" font-size="30.32" fill="#ff0000" stroke="#ff0000" stroke-width="1.64" stroke-linejoin="round" textLength="305.74" lengthAdjust="spacingAndGlyphs">Berends et al., 2021</text>
<text x="969.46" y="1407.38" font-size="30.32" fill="#00b050" stroke="#00b050" stroke-width="1.64" stroke-linejoin="round" textLength="90.39" lengthAdjust="spacingAndGlyphs">GRAD</text>
<text x="1068.62" y="1407.38" font-size="30.32" fill="#00b050" stroke="#00b050" stroke-width="1.64" stroke-linejoin="round" textLength="164.02" lengthAdjust="spacingAndGlyphs">simulation</text>
<text x="68.55" y="71.70" font-size="30.00" fill="#000" textLength="15.95" lengthAdjust="spacingAndGlyphs">1</text>
<text x="51.53" y="380.40" font-size="30.00" fill="#000" textLength="40.64" lengthAdjust="spacingAndGlyphs">0.5</text>
<text x="63.78" y="648.20" font-size="30.00" fill="#000" textLength="17.01" lengthAdjust="spacingAndGlyphs">0</text>
<text x="65.37" y="692.60" font-size="30.00" fill="#000" textLength="15.82" lengthAdjust="spacingAndGlyphs">1</text>
<text x="51.32" y="987.80" font-size="30.00" fill="#000" textLength="41.18" lengthAdjust="spacingAndGlyphs">0.5</text>
<text x="66.58" y="1280.50" font-size="30.00" fill="#000" textLength="17.01" lengthAdjust="spacingAndGlyphs">0</text>
<text x="67.73" y="1328.00" font-size="30.00" fill="#000" textLength="16.07" lengthAdjust="spacingAndGlyphs">1</text>
<text x="54.52" y="1629.30" font-size="30.00" fill="#000" textLength="40.86" lengthAdjust="spacingAndGlyphs">0.5</text>
<text x="63.76" y="1919.10" font-size="30.00" fill="#000" textLength="17.24" lengthAdjust="spacingAndGlyphs">0</text>
<text x="235.60" y="1932.00" font-size="27.80" fill="#000" textLength="58.34" lengthAdjust="spacingAndGlyphs">0.02</text>
<text x="413.31" y="1932.00" font-size="27.80" fill="#000" textLength="58.05" lengthAdjust="spacingAndGlyphs">0.04</text>
<text x="591.00" y="1932.00" font-size="27.80" fill="#000" textLength="58.63" lengthAdjust="spacingAndGlyphs">0.06</text>
<text x="873.80" y="1932.00" font-size="27.80" fill="#000" textLength="58.44" lengthAdjust="spacingAndGlyphs">0.02</text>
<text x="1051.51" y="1932.00" font-size="27.80" fill="#000" textLength="58.05" lengthAdjust="spacingAndGlyphs">0.04</text>
<text x="1230.20" y="1932.00" font-size="27.80" fill="#000" textLength="58.21" lengthAdjust="spacingAndGlyphs">0.06</text>
<text transform="translate(25.85,528.18) rotate(-90)" font-size="31.54" fill="#000" stroke="#000" stroke-width="1.7" stroke-linejoin="round" textLength="179.63" lengthAdjust="spacingAndGlyphs">Normalized</text>
<text transform="translate(25.85,340.21) rotate(-90)" font-size="31.54" fill="#000" stroke="#000" stroke-width="1.7" stroke-linejoin="round" textLength="98.95" lengthAdjust="spacingAndGlyphs">power</text>
<text transform="translate(24.95,1139.38) rotate(-90)" font-size="31.54" fill="#000" stroke="#000" stroke-width="1.7" stroke-linejoin="round" textLength="179.63" lengthAdjust="spacingAndGlyphs">Normalized</text>
<text transform="translate(24.95,951.43) rotate(-90)" font-size="31.54" fill="#000" stroke="#000" stroke-width="1.7" stroke-linejoin="round" textLength="99.57" lengthAdjust="spacingAndGlyphs">power</text>
<text transform="translate(25.85,1760.98) rotate(-90)" font-size="31.54" fill="#000" stroke="#000" stroke-width="1.7" stroke-linejoin="round" textLength="179.63" lengthAdjust="spacingAndGlyphs">Normalized</text>
<text transform="translate(25.85,1573.00) rotate(-90)" font-size="31.54" fill="#000" stroke="#000" stroke-width="1.7" stroke-linejoin="round" textLength="98.54" lengthAdjust="spacingAndGlyphs">power</text>
<text x="627.84" y="1971.88" font-size="30.32" fill="#000" stroke="#000" stroke-width="1.64" stroke-linejoin="round" textLength="159.42" lengthAdjust="spacingAndGlyphs">Frequency</text>
<text x="796.63" y="1971.88" font-size="30.32" fill="#000" stroke="#000" stroke-width="1.64" stroke-linejoin="round" textLength="8.49" lengthAdjust="spacingAndGlyphs">(</text>
<text x="808.43" y="1971.88" font-size="30.32" fill="#000" stroke="#000" stroke-width="1.64" stroke-linejoin="round" textLength="32.71" lengthAdjust="spacingAndGlyphs">ka</text>
<text x="844.21" y="1961.24" font-size="20.88" fill="#000" stroke="#000" stroke-width="1.12" stroke-linejoin="round" textLength="18.77" lengthAdjust="spacingAndGlyphs">-1</text>
<text x="866.13" y="1971.88" font-size="30.32" fill="#000" stroke="#000" stroke-width="1.64" stroke-linejoin="round" textLength="8.62" lengthAdjust="spacingAndGlyphs">)</text>
</svg>
</body></html>
